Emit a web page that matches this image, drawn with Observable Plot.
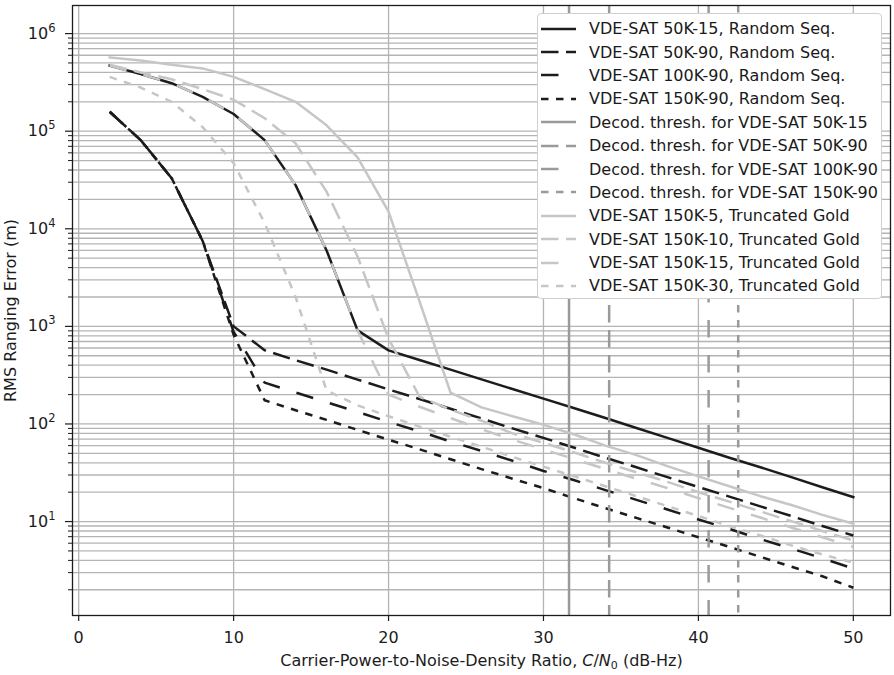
<!DOCTYPE html>
<html><head><meta charset="utf-8">
<script src="https://cdn.jsdelivr.net/npm/d3@7"></script>
<script src="https://cdn.jsdelivr.net/npm/@observablehq/plot@0.6"></script>
<style>
body{margin:0;background:#fff;font-family:"DejaVu Sans",sans-serif;}
#wrap{position:relative;width:894px;height:675px;}
#legend{position:absolute;left:537px;top:13px;width:343px;height:281px;border:1px solid #d0d0d0;border-radius:4px;background:#fff;padding-top:3px;}
.row{display:flex;align-items:center;height:23.4px;font-size:16px;color:#1a1a1a;white-space:nowrap;}
.row svg{margin-left:3px;margin-right:12px;flex:none;}
</style></head><body><div id="wrap"></div>
<script>
// ---- data (C/N0 in dB-Hz, RMS ranging error in m) ----
const cn0 = [2,4,6,8,10,12,14,16,18,20,22,24,26,28,30,32,34,36,38,40,42,44,46,48,50];
const rs50k15 = [4.7e5,3.85e5,3.1e5,2.25e5,1.5e5,8.1e4,2.8e4,6.0e3,910,568,452,360,286,228,182,145,115,91,72,57,45,36,28.5,22.5,17.8];
const rs50k90 = [1.58e5,8.1e4,3.3e4,7.5e3,1.0e3,570,450,360,285,226,180,143,114,90,72,57,45,36,28.5,22.6,18,14.3,11.4,9.0,7.2];
const rs100k90 = [1.58e5,8.1e4,3.3e4,7.5e3,880,265,210,167,133,105,84,66,53,42,33,26.5,21,16.7,13.3,10.5,8.4,6.6,5.3,4.2,3.3];
const rs150k90 = [1.58e5,8.1e4,3.3e4,7.5e3,820,175,138,110,87,69,55,43.5,34.5,27.5,22,17.3,13.7,10.9,8.7,6.9,5.5,4.35,3.45,2.75,2.1];
const tg150k5 = [5.7e5,5.3e5,4.8e5,4.4e5,3.6e5,2.7e5,2.0e5,1.15e5,5.4e4,1.5e4,1.8e3,210,148,120,98,78,60,48,37,29,23,18.2,14.8,11.7,9.5];
const tg150k10 = [4.8e5,4.0e5,3.4e5,2.7e5,2.1e5,1.36e5,7.5e4,2.4e4,5.2e3,750,190,140,108,80,64,51,40,32,25.5,20,16,12.7,10.1,8.0,6.4];
const tg150k15 = [4.7e5,3.85e5,3.1e5,2.25e5,1.5e5,8.1e4,2.8e4,6.0e3,910,200,150,115,88,69,55,43.5,34.5,27.5,22,17.4,13.8,11,8.7,6.9,5.5];
const tg150k30 = [3.6e5,2.8e5,2.0e5,1.1e5,4.7e4,1.15e4,2.0e3,220,155,120,94,74,58.5,46,36.5,29,23,18.2,14.4,11.4,9.0,7.2,5.7,4.6,3.8];
const decodThresh = [31.65, 34.24, 40.66, 42.57];

const rsNames = ["VDE-SAT 50K-15, Random Seq.","VDE-SAT 50K-90, Random Seq.","VDE-SAT 100K-90, Random Seq.","VDE-SAT 150K-90, Random Seq."];
const thNames = ["Decod. thresh. for VDE-SAT 50K-15","Decod. thresh. for VDE-SAT 50K-90","Decod. thresh. for VDE-SAT 100K-90","Decod. thresh. for VDE-SAT 150K-90"];
const tgNames = ["VDE-SAT 150K-5, Truncated Gold","VDE-SAT 150K-10, Truncated Gold","VDE-SAT 150K-15, Truncated Gold","VDE-SAT 150K-30, Truncated Gold"];

const xTicks = [0,10,20,30,40,50];
const yTicks = [1e1,1e2,1e3,1e4,1e5,1e6];
const yTickExp = ["1","2","3","4","5","6"];
const xLabel = "Carrier-Power-to-Noise-Density Ratio, C/N0 (dB-Hz)";
const yLabel = "RMS Ranging Error (m)";

// ---- styles ----
const dashes = [null, "17.5,7.5", "17.5,17.5", "7.5,7.5"];
const cBlack = "#1c1c1c", cMid = "#9a9a9a", cLight = "#c6c6c6";
const LW = 2.5;
const FS = 16;

const yMinor = [];
for (let e = 0; e <= 5; e++) for (let m = 2; m <= 9; m++) yMinor.push(m * 10 ** e);

const rsValues = [rs50k15, rs50k90, rs100k90, rs150k90];
const tgValues = [tg150k5, tg150k10, tg150k15, tg150k30];
const toRows = vals => cn0.map((x, i) => ({x, y: vals[i]}));

function lineMark(vals, color, dash) {
  return Plot.line(toRows(vals), {x: "x", y: "y", stroke: color, strokeWidth: LW,
    strokeDasharray: dash || undefined, strokeLinecap: dash ? "butt" : "square", strokeLinejoin: "round"});
}

const marks = [
  Plot.gridY(yMinor, {stroke: "#b4b4b4", strokeOpacity: 1, strokeWidth: 1.3}),
  Plot.gridY(yTicks, {stroke: "#b4b4b4", strokeOpacity: 1, strokeWidth: 1.3}),
  Plot.gridX(xTicks, {stroke: "#b4b4b4", strokeOpacity: 1, strokeWidth: 1.3}),
  ...rsValues.map((v, i) => lineMark(v, cBlack, dashes[i])),
  ...decodThresh.map((t, i) => Plot.ruleX([t], {stroke: cMid, strokeWidth: LW, strokeDasharray: dashes[i] || undefined, strokeLinecap: "butt"})),
  ...tgValues.map((v, i) => lineMark(v, cLight, dashes[i])),
  Plot.frame({stroke: cBlack, strokeWidth: 1.3}),
  Plot.axisX(xTicks, {tickSize: 6, tickPadding: 10, fontSize: FS, label: null, stroke: cBlack, strokeWidth: 1.2}),
  Plot.axisY(yTicks, {tickSize: 7, tickPadding: 10, fontSize: FS, label: null, stroke: cBlack, strokeWidth: 1.2,
    tickFormat: d => "10^" + yTickExp[yTicks.indexOf(d)]}),
  Plot.axisY(yMinor, {tickSize: 4, label: null, stroke: cBlack, strokeWidth: 1, tickFormat: () => ""}),
  Plot.text([xLabel], {frameAnchor: "bottom", dy: 50, fontSize: FS, fill: cBlack}),
  Plot.text([yLabel], {frameAnchor: "left", textAnchor: "middle", dx: -62, rotate: -90, fontSize: FS, fill: cBlack})
];

const chart = Plot.plot({
  width: 894, height: 675,
  marginLeft: 72, marginRight: 4, marginTop: 5, marginBottom: 60,
  x: {domain: [-0.4, 52.4]},
  y: {type: "log", domain: [1.09, 1.94e6]},
  style: {fontFamily: "DejaVu Sans", fontSize: FS + "px", color: cBlack, background: "white"},
  marks
});

chart.querySelectorAll("text").forEach(t => {
  const s = t.textContent;
  if (s === xLabel) {
    t.innerHTML = 'Carrier-Power-to-Noise-Density Ratio, <tspan font-style="italic">C</tspan>/<tspan font-style="italic">N</tspan><tspan font-size="11" dy="3">0</tspan><tspan dy="-3"> (dB-Hz)</tspan>';
  } else if (/^10\^\d$/.test(s)) {
    t.innerHTML = `10<tspan font-size="11.5" dy="-7">${s.slice(3)}</tspan>`;
  }
});

const wrap = document.getElementById("wrap");
wrap.appendChild(chart);

// legend (inside the axes, upper right)
const legend = document.createElement("div");
legend.id = "legend";
const entries = [
  ...rsNames.map((n, i) => [n, cBlack, dashes[i]]),
  ...thNames.map((n, i) => [n, cMid, dashes[i]]),
  ...tgNames.map((n, i) => [n, cLight, dashes[i]])
];
for (const [name, color, dash] of entries) {
  const row = document.createElement("div");
  row.className = "row";
  row.innerHTML = `<svg width="36" height="10"><line x1="0" x2="35" y1="5" y2="5" stroke="${color}" stroke-width="${LW}" ${dash ? `stroke-dasharray="${dash}"` : ""}/></svg><span>${name}</span>`;
  legend.appendChild(row);
}
wrap.appendChild(legend);
</script>
</body></html>
